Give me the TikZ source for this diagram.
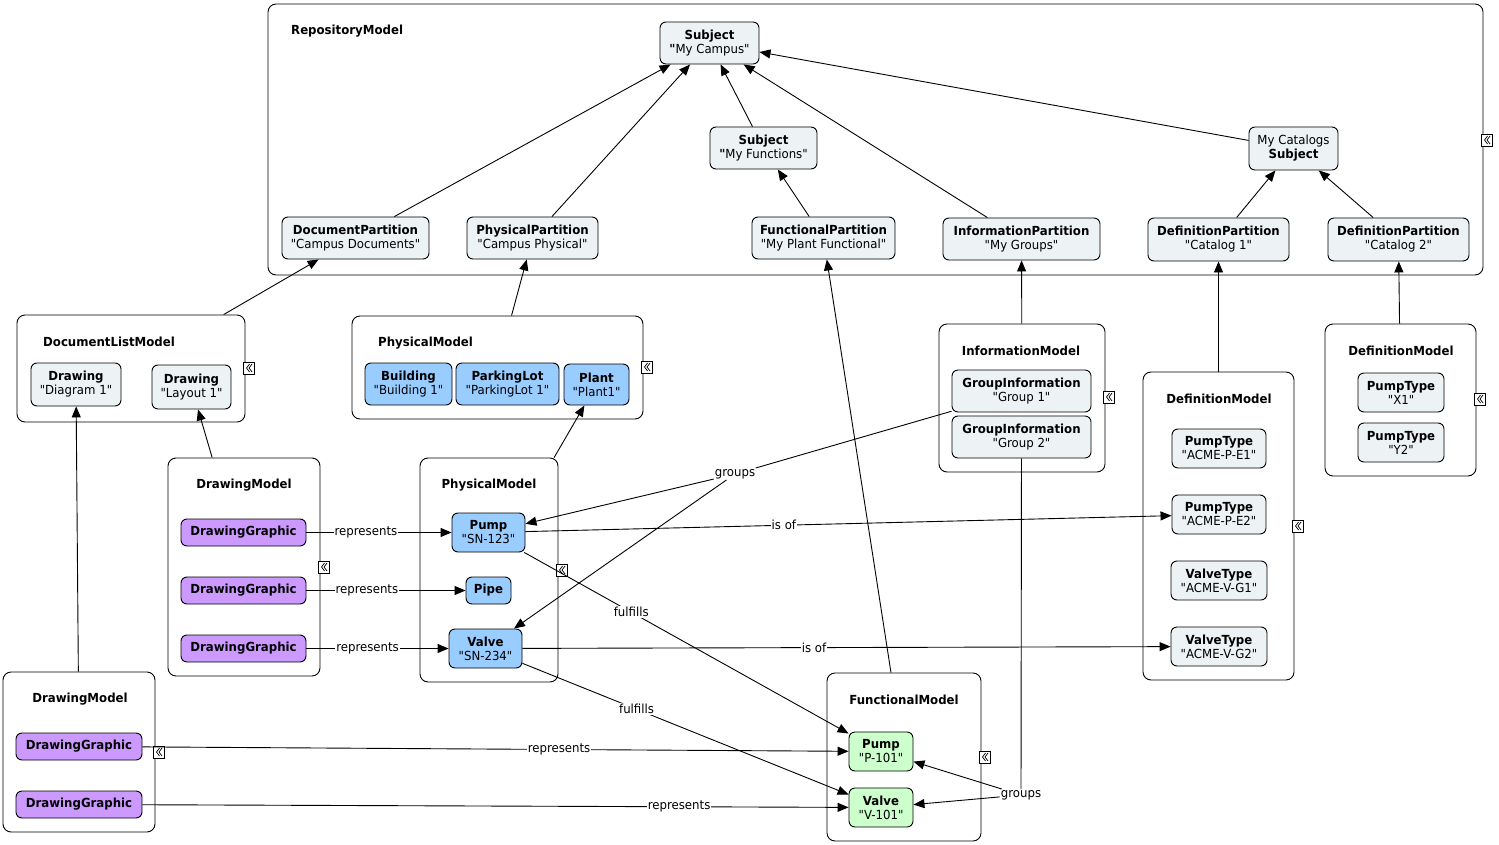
\documentclass[tikz,border=0pt]{standalone}
\usepackage{fontspec}
\setmainfont{DejaVu Sans}[FakeStretch=0.94, Ligatures=TeXOff]
\usetikzlibrary{arrows.meta}
\newcommand{\nf}{\fontsize{12.5}{14}\selectfont}
\newcommand{\bnf}{\fontsize{12.5}{14}\selectfont\bfseries}
\definecolor{ngray}{HTML}{EDF2F5}
\definecolor{nblue}{HTML}{99CCFF}
\definecolor{npurple}{HTML}{CC99FF}
\definecolor{ngreen}{HTML}{CCFFCC}
\tikzset{
  cont/.style={draw, rounded corners=8pt, fill=white, line width=0.9pt},
  box/.style={draw, rounded corners=6pt, align=center, inner sep=1pt, line width=0.9pt, font=\nf},
  lnode/.style={box, fill=ngray},
  bnode/.style={box, fill=nblue},
  pnode/.style={box, fill=npurple},
  gnode/.style={box, fill=ngreen},
  ttl/.style={font=\bnf, inner sep=0pt},
  icon/.style={draw, line width=0.8pt, fill=white, minimum width=11pt, minimum height=12pt, inner sep=0pt,
    path picture={
      \draw[line width=0.7pt]
        ([shift={(0.5,-4)}]path picture bounding box.center) -- ([shift={(-2.5,0)}]path picture bounding box.center) -- ([shift={(0.5,4)}]path picture bounding box.center)
        ([shift={(3,-4)}]path picture bounding box.center) -- ([shift={(0,0)}]path picture bounding box.center) -- ([shift={(3,4)}]path picture bounding box.center);
    }},
  arr/.style={-{Triangle[length=11pt,width=9pt]}, line width=0.9pt},
  ln/.style={line width=0.9pt},
  elab/.style={fill=white, inner sep=1pt, font=\nf},
}
\begin{document}
\begin{tikzpicture}[x=1pt,y=-1pt]
\useasboundingbox (0,0) rectangle (1499,845);

% ---------- containers ----------
\node[cont, minimum width=1215pt, minimum height=271pt] (rep) at (875.5,139.5) {};
\node[cont, minimum width=228pt, minimum height=107pt] (dlm) at (131,368.5) {};
\node[cont, minimum width=291pt, minimum height=103pt] (pmt) at (497.5,367.5) {};
\node[cont, minimum width=166pt, minimum height=148pt] (inm) at (1022,398) {};
\node[cont, minimum width=151pt, minimum height=308pt] (dmm) at (1218.5,526) {};
\node[cont, minimum width=151pt, minimum height=152pt] (dmr) at (1400.5,400) {};
\node[cont, minimum width=152pt, minimum height=218pt] (drm) at (244,567) {};
\node[cont, minimum width=138pt, minimum height=224pt] (pmm) at (489,570) {};
\node[cont, minimum width=154pt, minimum height=168pt] (fnm) at (904,757) {};
\node[cont, minimum width=152pt, minimum height=160pt] (drb) at (79,752) {};

% ---------- titles ----------
\node[ttl, anchor=west] (trep) at (291,31) {RepositoryModel};
\node[ttl, anchor=west] (tdlm) at (43,342) {DocumentListModel};
\node[ttl, anchor=west] (tpmt) at (378,343) {PhysicalModel};
\node[ttl] (tinm) at (1021,351) {InformationModel};
\node[ttl] (tdmm) at (1219,399) {DefinitionModel};
\node[ttl] (tdmr) at (1401,351) {DefinitionModel};
\node[ttl] (tdrm) at (244,485) {DrawingModel};
\node[ttl] (tpmm) at (489,485) {PhysicalModel};
\node[ttl] (tfnm) at (904,700) {FunctionalModel};
\node[ttl] (tdrb) at (80,699) {DrawingModel};

% ---------- collapse icons ----------
\node[icon] (irep) at (1487,140) {};
\node[icon] (idlm) at (249,368) {};
\node[icon] (ipmt) at (647,367) {};
\node[icon] (iinm) at (1109,397) {};
\node[icon] (idmm) at (1298,526) {};
\node[icon] (idmr) at (1480,399) {};
\node[icon] (idrm) at (324,567) {};
\node[icon] (ipmm) at (562,570) {};
\node[icon] (ifnm) at (985,757) {};
\node[icon] (idrb) at (159,752) {};

% ---------- repository nodes ----------
\node[lnode, minimum width=99pt, minimum height=42pt] (sc) at (709.5,43) {\textbf{Subject}\\\textbf{"}My Campus"};
\node[lnode, minimum width=107pt, minimum height=42pt] (sf) at (763.5,148) {\textbf{Subject}\\\textbf{"}My Functions"};
\node[lnode, minimum width=89pt, minimum height=43pt] (sk) at (1293.5,148.5) {My Catalogs\\\textbf{Subject}};
\node[lnode, minimum width=147pt, minimum height=42pt] (dp) at (355.5,238) {\textbf{DocumentPartition}\\"Campus Documents"};
\node[lnode, minimum width=131pt, minimum height=42pt] (pp) at (532.5,238) {\textbf{PhysicalPartition}\\"Campus Physical"};
\node[lnode, minimum width=143pt, minimum height=42pt] (fp) at (823.5,238) {\textbf{FunctionalPartition}\\"My Plant Functional"};
\node[lnode, minimum width=157pt, minimum height=42pt] (ip) at (1021.5,239) {\textbf{InformationPartition}\\"My Groups"};
\node[lnode, minimum width=141pt, minimum height=43pt] (c1) at (1218.5,239.5) {\textbf{DefinitionPartition}\\"Catalog 1"};
\node[lnode, minimum width=141pt, minimum height=43pt] (c2) at (1398.5,239.5) {\textbf{DefinitionPartition}\\"Catalog 2"};

% ---------- document list ----------
\node[lnode, minimum width=90pt, minimum height=43pt] (dd) at (76,384.5) {\textbf{Drawing}\\"Diagram 1"};
\node[lnode, minimum width=79pt, minimum height=44pt] (dl) at (191.5,387) {\textbf{Drawing}\\"Layout 1"};

% ---------- physical model (top) ----------
\node[bnode, minimum width=87pt, minimum height=42pt] (bu) at (408.5,384) {\textbf{Building}\\"Building 1"};
\node[bnode, minimum width=103pt, minimum height=42pt] (pl) at (507.5,384) {\textbf{ParkingLot}\\"ParkingLot 1"};
\node[bnode, minimum width=65pt, minimum height=41pt] (pt) at (596.5,384.5) {\textbf{Plant}\\"Plant1"};

% ---------- information model ----------
\node[lnode, minimum width=139pt, minimum height=42pt] (g1) at (1021.5,391) {\textbf{GroupInformation}\\"Group 1"};
\node[lnode, minimum width=139pt, minimum height=42pt] (g2) at (1021.5,437) {\textbf{GroupInformation}\\"Group 2"};

% ---------- definition model (middle) ----------
\node[lnode, minimum width=94pt, minimum height=39pt] (pe1) at (1219,448.5) {\textbf{PumpType}\\"ACME-P-E1"};
\node[lnode, minimum width=94pt, minimum height=39pt] (pe2) at (1219,514.5) {\textbf{PumpType}\\"ACME-P-E2"};
\node[lnode, minimum width=96pt, minimum height=39pt] (vg1) at (1219,580.5) {\textbf{ValveType}\\"ACME-V-G1"};
\node[lnode, minimum width=96pt, minimum height=39pt] (vg2) at (1219,646.5) {\textbf{ValveType}\\"ACME-V-G2"};

% ---------- definition model (right) ----------
\node[lnode, minimum width=86pt, minimum height=39pt] (x1) at (1401,392.5) {\textbf{PumpType}\\"X1"};
\node[lnode, minimum width=86pt, minimum height=39pt] (y2) at (1401,442.5) {\textbf{PumpType}\\"Y2"};

% ---------- drawing model (middle) ----------
\node[pnode, minimum width=125pt, minimum height=27pt] (dg1) at (243.5,532.5) {\textbf{DrawingGraphic}};
\node[pnode, minimum width=125pt, minimum height=27pt] (dg2) at (243.5,590.5) {\textbf{DrawingGraphic}};
\node[pnode, minimum width=125pt, minimum height=27pt] (dg3) at (243.5,648.5) {\textbf{DrawingGraphic}};

% ---------- physical model (middle) ----------
\node[bnode, minimum width=73pt, minimum height=39pt] (pu) at (488.5,532.5) {\textbf{Pump}\\"SN-123"};
\node[bnode, minimum width=45pt, minimum height=27pt] (pi) at (488.5,590.5) {\textbf{Pipe}};
\node[bnode, minimum width=73pt, minimum height=39pt] (va) at (485.5,648.5) {\textbf{Valve}\\"SN-234"};

% ---------- functional model ----------
\node[gnode, minimum width=64pt, minimum height=39pt] (fpu) at (881,751.5) {\textbf{Pump}\\"P-101"};
\node[gnode, minimum width=64pt, minimum height=39pt] (fva) at (881,807.5) {\textbf{Valve}\\"V-101"};

% ---------- drawing model (bottom) ----------
\node[pnode, minimum width=126pt, minimum height=27pt] (dg4) at (79,746.5) {\textbf{DrawingGraphic}};
\node[pnode, minimum width=126pt, minimum height=27pt] (dg5) at (79,804.5) {\textbf{DrawingGraphic}};

% ---------- repository edges ----------
\draw[arr] (dp) -- (sc);
\draw[arr] (pp) -- (sc);
\draw[arr] (sf) -- (sc);
\draw[arr] (ip) -- (sc);
\draw[arr] (sk) -- (sc);
\draw[arr] (fp) -- (sf);
\draw[arr] (c1) -- (sk);
\draw[arr] (c2) -- (sk);

% ---------- model to partition edges ----------
\draw[arr] (dlm) -- (dp);
\draw[arr] (pmt) -- (pp);
\draw[arr] (inm) -- (ip);
\draw[arr] (dmm) -- (c1);
\draw[arr] (dmr) -- (c2);
\draw[arr] (drm) -- (dl);
\draw[arr] (pmm) -- (pt);
\draw[arr] (drb) -- (dd);
\draw[arr] (fnm) -- (fp);

% ---------- labelled edges ----------
\draw[arr] (dg1) -- node[elab, pos=0.41] {represents} (pu);
\draw[arr] (dg2) -- node[elab, pos=0.38] {represents} (pi);
\draw[arr] (dg3) -- node[elab, pos=0.43] {represents} (va);
\draw[arr] (pu) -- node[elab, pos=0.40] {is of} (pe2);
\draw[arr] (va) -- node[elab, pos=0.45] {is of} (vg2);
\draw[arr] (pu) -- node[elab, pos=0.33] {fulfills} (fpu);
\draw[arr] (va) -- node[elab, pos=0.35] {fulfills} (fva);
\draw[arr] (dg4) -- node[elab, pos=0.59] {represents} (fpu);
\draw[arr] (dg5) -- node[elab, pos=0.76] {represents} (fva);

% ---------- groups hyperedges ----------
\node[elab] (grp1) at (735,474) {groups};
\node[elab] (grp2) at (1021,795) {groups};
\draw[ln] (g1) -- (grp1);
\draw[arr] (grp1) -- (pu);
\draw[arr] (grp1) -- (va);
\draw[ln] (g2) -- (grp2);
\draw[arr] (grp2) -- (fpu);
\draw[arr] (grp2) -- (fva);
\end{tikzpicture}
\end{document}
